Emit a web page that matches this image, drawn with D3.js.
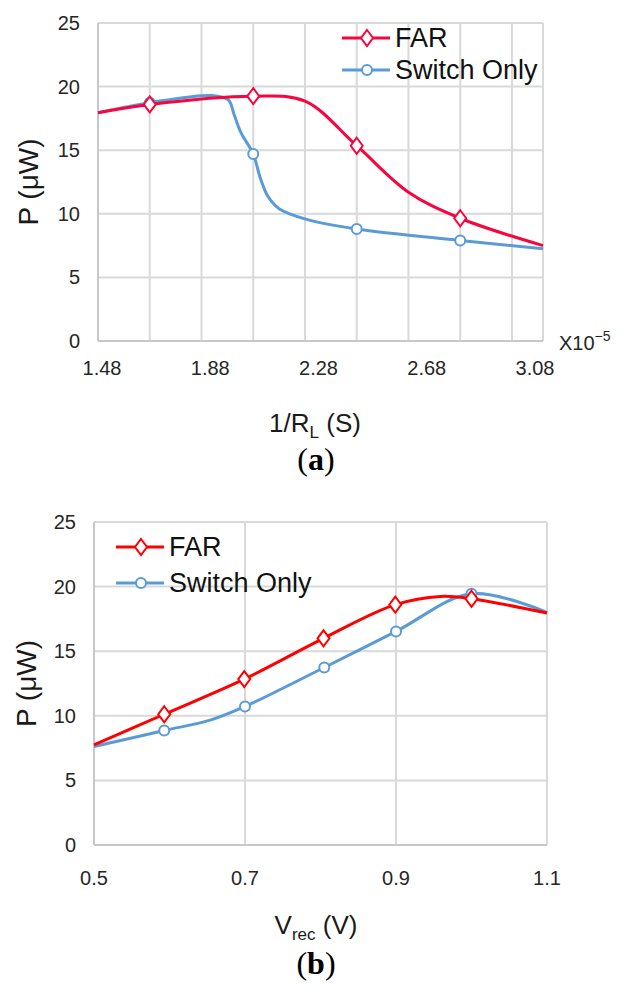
<!DOCTYPE html>
<html>
<head>
<meta charset="utf-8">
<script src="https://cdn.jsdelivr.net/npm/d3@7"></script>
<style>
  html, body { margin: 0; padding: 0; background: #fff; }
  text { font-family: "Liberation Sans", Arial, sans-serif; }
</style>
</head>
<body>
<svg id="fig" width="624" height="991"></svg>
<script>
// ---------- data ----------
const pTicks = [0, 5, 10, 15, 20, 25];

// (a) x is counted in gridline steps, labels are laid over them
const aGrid = [0, 1, 2, 3, 4, 5, 6, 7, 8];
const aLabels = ["1.48", "1.88", "2.28", "2.68", "3.08"];
// [x, P (uW), has marker]
const aFar = [
  [0, 17.95, 0], [1, 18.6, 1], [3, 19.25, 1], [4, 18.85, 0],
  [5, 15.35, 1], [6, 11.7, 0], [7, 9.65, 1], [8.6, 7.5, 0]
];
const aSwitch = [
  [0, 17.95, 0], [1, 18.74, 1], [2.2, 19.3, 0], [2.52, 18.95, 0],
  [2.63, 17.8, 0], [2.76, 16.4, 0], [3, 14.7, 1], [3.13, 12.9, 0],
  [3.28, 11.4, 0], [3.5, 10.4, 0], [4, 9.6, 0], [5, 8.8, 1],
  [7, 7.91, 1], [8.6, 7.26, 0]
];

// (b) P vs Vrec
const bGrid = [0.5, 0.7, 0.9, 1.1];
const bLabels = ["0.5", "0.7", "0.9", "1.1"];
const bFar = [
  [0.5, 7.75, 0], [0.593, 10.12, 1], [0.699, 12.84, 1], [0.804, 16.0, 1],
  [0.899, 18.6, 1], [0.959, 19.24, 0], [1.0, 19.06, 1], [1.1, 17.95, 0]
];
const bSwitch = [
  [0.5, 7.62, 0], [0.593, 8.86, 1], [0.655, 9.68, 0], [0.7, 10.72, 1],
  [0.805, 13.74, 1], [0.9, 16.53, 1], [1.0, 19.45, 1], [1.1, 18.0, 0]
];

const BLUE = "#5b9bd5";
const svg = d3.select("#fig");

function diamond(g, cx, cy, color) {
  g.append("path")
    .attr("d", `M${cx},${cy - 8}L${cx + 6},${cy}L${cx},${cy + 8}L${cx - 6},${cy}Z`)
    .attr("fill", "#fff").attr("stroke", color).attr("stroke-width", 2);
}
function circle(g, cx, cy, color) {
  g.append("circle").attr("cx", cx).attr("cy", cy).attr("r", 5)
    .attr("fill", "#fff").attr("stroke", color).attr("stroke-width", 2);
}

function drawChart(cfg) {
  const g = svg.append("g");
  const x = d3.scaleLinear().domain(cfg.xDomain).range([cfg.left, cfg.right]);
  const y = d3.scaleLinear().domain([0, 25]).range([cfg.bottom, cfg.top]);

  // grid
  g.selectAll(".hg").data(pTicks).enter().append("line")
    .attr("x1", cfg.left).attr("x2", cfg.right)
    .attr("y1", d => y(d)).attr("y2", d => y(d))
    .attr("stroke", "#d9d9d9").attr("stroke-width", 2);
  g.selectAll(".vg").data(cfg.grid.concat([cfg.xDomain[1]])).enter().append("line")
    .attr("x1", d => x(d)).attr("x2", d => x(d))
    .attr("y1", cfg.top).attr("y2", cfg.bottom)
    .attr("stroke", "#d9d9d9").attr("stroke-width", 2);
  // axis lines
  g.append("line").attr("x1", cfg.left).attr("x2", cfg.left)
    .attr("y1", cfg.top).attr("y2", cfg.bottom).attr("stroke", "#c8c8c8").attr("stroke-width", 2);
  g.append("line").attr("x1", cfg.left).attr("x2", cfg.right)
    .attr("y1", cfg.bottom).attr("y2", cfg.bottom).attr("stroke", "#c8c8c8").attr("stroke-width", 2);

  // y tick labels
  g.selectAll(".yl").data(pTicks).enter().append("text")
    .attr("x", cfg.left - 18).attr("y", d => y(d)).attr("dy", "0.35em")
    .attr("text-anchor", "end").attr("font-size", 20).attr("fill", "#262626")
    .text(d => d);

  // x tick labels
  const lx = cfg.labelScale || (v => x(+v));
  g.selectAll(".xl").data(cfg.labels).enter().append("text")
    .attr("x", d => lx(+d)).attr("y", cfg.bottom + cfg.labelGap).attr("dy", "0.35em")
    .attr("text-anchor", "middle").attr("font-size", 20).attr("fill", "#262626")
    .text(d => d);

  // y title
  g.append("text")
    .attr("transform", `translate(${cfg.yTitleX},${(cfg.top + cfg.bottom) / 2}) rotate(-90)`)
    .attr("text-anchor", "middle").attr("dy", "0.35em")
    .attr("font-size", 28).attr("fill", "#1a1a1a")
    .text("P (μW)");

  // x title with subscript
  const xt = g.append("text")
    .attr("x", cfg.xTitleX).attr("y", cfg.xTitleY)
    .attr("text-anchor", "middle").attr("font-size", 26).attr("fill", "#1a1a1a");
  xt.append("tspan").text(cfg.xTitle[0]);
  xt.append("tspan").attr("font-size", 17).attr("dy", 6).text(cfg.xTitle[1]);
  xt.append("tspan").attr("dy", -6).text(cfg.xTitle[2]);

  // series
  const line = d3.line().x(d => x(d[0])).y(d => y(d[1]))
    .curve(d3.curveCatmullRom.alpha(0.5));
  const series = [
    { pts: cfg.sw, color: BLUE, mark: circle },
    { pts: cfg.far, color: cfg.red, mark: diamond }
  ];
  series.forEach(s => {
    g.append("path").attr("d", line(s.pts)).attr("fill", "none")
      .attr("stroke", s.color).attr("stroke-width", 3);
    s.pts.filter(d => d[2]).forEach(d => s.mark(g, x(d[0]), y(d[1]), s.color));
  });

  // legend
  const L = cfg.legend;
  [{ name: "FAR", color: cfg.red, mark: diamond, cy: L.y0 },
   { name: "Switch Only", color: BLUE, mark: circle, cy: L.y1 }].forEach(it => {
    g.append("line").attr("x1", L.x0).attr("x2", L.x0 + 48)
      .attr("y1", it.cy).attr("y2", it.cy)
      .attr("stroke", it.color).attr("stroke-width", 3);
    it.mark(g, L.x0 + 25, it.cy, it.color);
    g.append("text").attr("x", L.x0 + 53).attr("y", it.cy).attr("dy", "0.35em")
      .attr("font-size", 27).attr("fill", "#111").text(it.name);
  });

  // caption
  const cap = g.append("text").attr("x", 316).attr("y", cfg.capY)
    .attr("text-anchor", "middle").attr("font-size", 32)
    .style("font-family", "'Liberation Serif', 'DejaVu Serif', serif").attr("fill", "#000");
  cap.append("tspan").text("(");
  cap.append("tspan").attr("font-weight", "bold").text(cfg.cap);
  cap.append("tspan").text(")");
  return g;
}

const ga = drawChart({
  left: 98, right: 543, top: 23, bottom: 341,
  xDomain: [0, 8.6], grid: aGrid, labels: aLabels,
  labelScale: d3.scaleLinear().domain([1.48, 3.08]).range([102, 535]),
  labelGap: 27, yTitleX: 28,
  xTitle: ["1/R", "L", " (S)"], xTitleX: 315, xTitleY: 432,
  far: aFar, sw: aSwitch, red: "#f7053f",
  legend: { x0: 342, y0: 38, y1: 70 },
  cap: "a", capY: 470
});

// x10^-5 multiplier
const mult = ga.append("text").attr("x", 559).attr("y", 350)
  .attr("font-size", 20).attr("fill", "#262626");
mult.append("tspan").text("X10");
mult.append("tspan").attr("font-size", 14).attr("dy", -9).text("−5");

drawChart({
  left: 94, right: 547, top: 522, bottom: 845,
  xDomain: [0.5, 1.1], grid: bGrid, labels: bLabels,
  labelGap: 33, yTitleX: 26,
  xTitle: ["V", "rec", " (V)"], xTitleX: 316, xTitleY: 934,
  far: bFar, sw: bSwitch, red: "#ff0000",
  legend: { x0: 116, y0: 547, y1: 583 },
  cap: "b", capY: 974
});
</script>
</body>
</html>
